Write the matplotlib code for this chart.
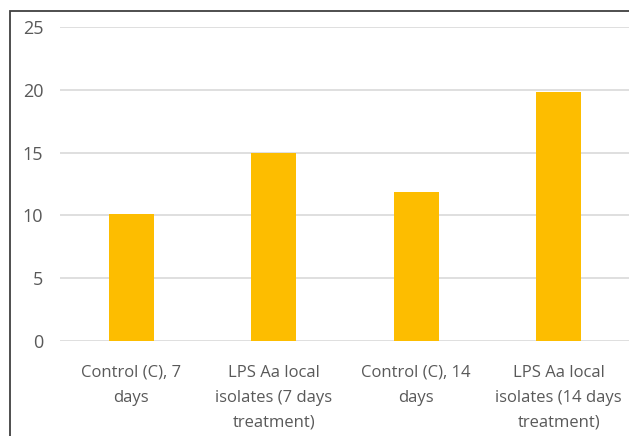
import matplotlib
matplotlib.use("Agg")
import matplotlib.pyplot as plt
from matplotlib.patches import Rectangle

# ---------- DATA ----------
categories = [
    "Control (C), 7\ndays",
    "LPS Aa local\nisolates (7 days\ntreatment)",
    "Control (C), 14\ndays",
    "LPS Aa local\nisolates (14 days\ntreatment)",
]
values = [10.1, 15.0, 11.9, 19.8]
yticks = [0, 5, 10, 15, 20, 25]

# ---------- PLOT ----------
fig = plt.figure(figsize=(6.29, 4.36), dpi=100)
ax = fig.add_axes([60 / 629, 95 / 436, 570 / 629, 314 / 436])

x = range(len(categories))
ax.bar(x, values, width=0.315, color="#FDBD00", zorder=3)

ax.set_xlim(-0.5, len(categories) - 0.5)
ax.set_ylim(0, 25)
ax.set_yticks(yticks)
ax.set_xticks(list(x))
ax.set_xticklabels(categories, linespacing=1.75)

for s in ax.spines.values():
    s.set_visible(False)
ax.grid(axis="y", color="#d9d9d9", lw=1.2, zorder=0)
ax.tick_params(length=0, colors="#595959")
ax.tick_params(axis="y", pad=12, labelsize=13)
ax.tick_params(axis="x", pad=17, labelsize=12)
for lab in ax.get_xticklabels() + ax.get_yticklabels():
    lab.set_fontfamily("Open Sans")
    lab.set_color("#595959")

# outer frame (cropped at right and bottom)
fig.patches.append(Rectangle((10 / 629, -0.1), 1.0, (436 - 11) / 436 + 0.1,
                             transform=fig.transFigure, fill=False,
                             edgecolor="#404040", lw=1.3))

fig.savefig("out.png", dpi=100)
